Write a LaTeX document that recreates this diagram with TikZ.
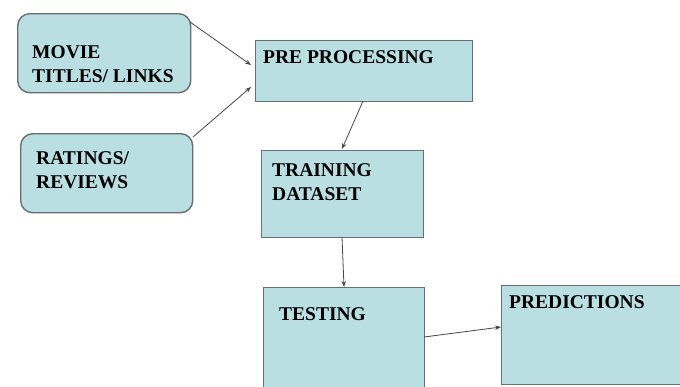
\documentclass[tikz,border=0pt]{standalone}
\usepackage{fontspec}
\setmainfont{Liberation Serif}
\usetikzlibrary{arrows.meta}
\definecolor{boxfill}{RGB}{185,223,227}
\definecolor{boxline}{RGB}{105,110,112}
\definecolor{arrowcol}{RGB}{70,70,70}
\begin{document}
\begin{tikzpicture}[x=1pt,y=-1pt,
  boxbase/.style={draw=boxline, line width=1.4pt, fill=boxfill, inner sep=0pt, anchor=north west},
  roundbox/.style={boxbase, rounded corners=12pt},
  sqbox/.style={boxbase},
  lbl/.style={anchor=base west, inner sep=0pt, align=left, font=\fontsize{19.5}{23.5}\selectfont\bfseries},
  conn/.style={draw=arrowcol, line width=0.8pt, -{Stealth[length=6pt,width=4.5pt]}}]
\useasboundingbox (0,0) rectangle (680,386);
\fill[white] (0,0) rectangle (680,386);
% boxes
\node[roundbox, minimum width=173pt, minimum height=79pt] (movie) at (17,13) {};
\node[roundbox, minimum width=172pt, minimum height=79pt] (rating) at (20,133) {};
\node[sqbox, minimum width=217pt, minimum height=61pt] (pre) at (255,40) {};
\node[sqbox, minimum width=162pt, minimum height=87pt] (train) at (261,150) {};
\node[sqbox, minimum width=161pt, minimum height=105pt] (test) at (263,287) {};
\node[sqbox, minimum width=185pt, minimum height=99pt] (pred) at (501,285) {};
% labels (base anchor = baseline of last line)
\node[lbl] (tmovie) at (32,82) {MOVIE\\TITLES/ LINKS};
\node[lbl] (trating) at (36,188) {RATINGS/\\REVIEWS};
\node[lbl] (tpre) at (263,63) {PRE PROCESSING};
\node[lbl] (ttrain) at (272,200) {TRAINING\\DATASET};
\node[lbl] (ttest) at (279,320) {TESTING};
\node[lbl] (tpred) at (509,308) {PREDICTIONS};
% connectors
\coordinate (m1) at (190,22);
\coordinate (p1) at (251,65);
\coordinate (r1) at (193,137);
\coordinate (p2) at (251,87);
\coordinate (p3) at (363,101);
\coordinate (t1) at (342,149);
\coordinate (t2) at (342,237);
\coordinate (s1) at (344,287);
\coordinate (s2) at (424,337);
\coordinate (d1) at (501,327);
\draw[conn] (m1) -- (p1);
\draw[conn] (r1) -- (p2);
\draw[conn] (p3) -- (t1);
\draw[conn] (t2) -- (s1);
\draw[conn] (s2) -- (d1);
\end{tikzpicture}
\end{document}
